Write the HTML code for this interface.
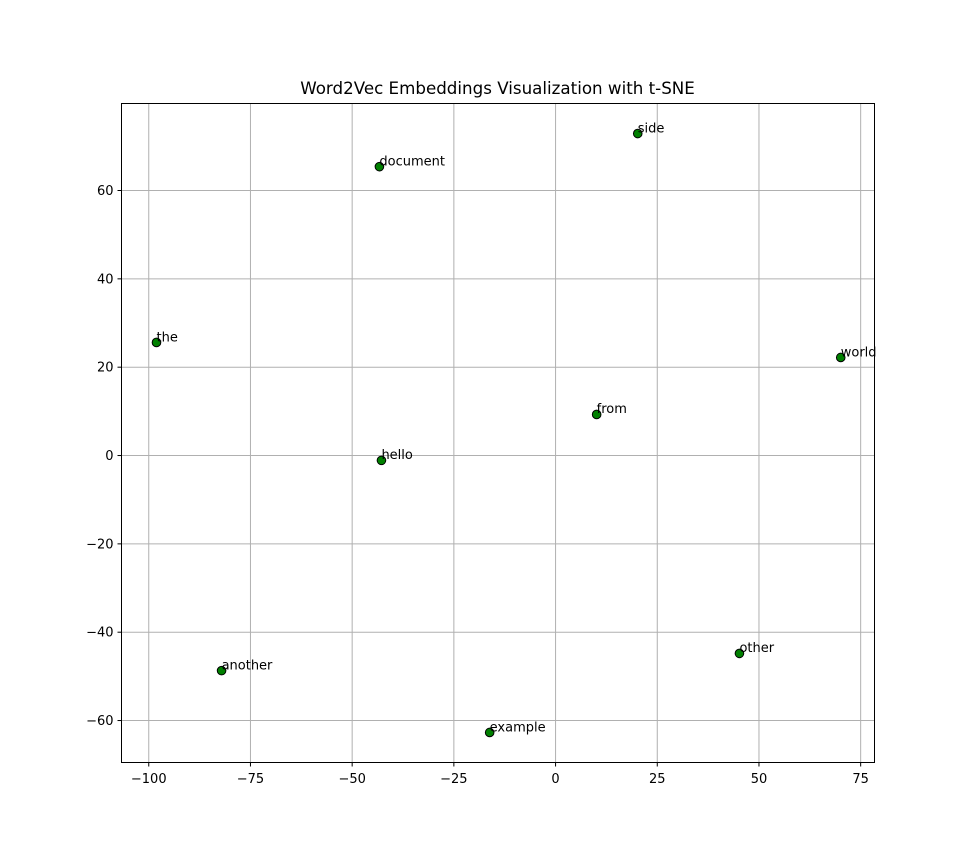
<!DOCTYPE html>
<html><head><meta charset="utf-8"><style>
body{margin:0;background:#fff;}
svg{display:block;font-family:"DejaVu Sans","Liberation Sans",sans-serif;}
</style></head><body>
<svg id="chart" width="971" height="856">
<rect width="971" height="856" fill="#fff"/>
<text x="497.5" y="94" text-anchor="middle" font-size="16.7">Word2Vec Embeddings Visualization with t-SNE</text>
<g id="grid"></g>
<g id="axes"></g>
<g id="points"></g>
<rect x="121.5" y="103.5" width="753" height="659" fill="none" stroke="#000" stroke-width="1"/>
</svg>
<script>
const words=["side","document","the","world","from","hello","another","other","example"];
const xVals=[20.2,-43.3,-98.1,70.1,10.1,-42.8,-82.1,45.2,-16.2];
const yVals=[72.9,65.4,25.6,22.2,9.3,-1.1,-48.7,-44.8,-62.7];
const xTicks=[-100,-75,-50,-25,0,25,50,75];
const yTicks=[-60,-40,-20,0,20,40,60];
const L=121.5,R=874.5,T=103.5,B=762.5;
const xMin=-106.7,xMax=78.4,yMin=-69.5,yMax=79.7;
function sx(v){return L+(v-xMin)/(xMax-xMin)*(R-L);}
function sy(v){return B-(v-yMin)/(yMax-yMin)*(B-T);}
const NS="http://www.w3.org/2000/svg";
function mk(t,a,p){const e=document.createElementNS(NS,t);for(const k in a)e.setAttribute(k,a[k]);p.appendChild(e);return e;}
const grid=document.getElementById('grid'),axes=document.getElementById('axes'),pts=document.getElementById('points');
xTicks.forEach(v=>{const x=sx(v);
 const g=mk('line',{x1:x,x2:x,y1:T,y2:B,stroke:'#b0b0b0','stroke-width':1},grid);
 
 
 const t=mk('line',{x1:x,x2:x,y1:B,y2:B+4,stroke:'#000'},axes);
 
 
 const l=mk('text',{x:x,y:B+20.5,'text-anchor':'middle','font-size':13},axes);
 l.textContent=String(v).replace('-','\u2212');
 
 
});
yTicks.forEach(v=>{const y=sy(v);
 const g=mk('line',{x1:L,x2:R,y1:y,y2:y,stroke:'#b0b0b0','stroke-width':1},grid);
 
 
 const t=mk('line',{x1:L-4,x2:L,y1:y,y2:y,stroke:'#000'},axes);
 
 
 const l=mk('text',{x:L-8,y:y+4.5,'text-anchor':'end','font-size':13},axes);
 l.textContent=String(v).replace('-','\u2212');
 
 
});
words.forEach((w,i)=>{const x=sx(xVals[i]),y=sy(yVals[i]);
 const c=mk('circle',{cx:x,cy:y,r:4.3,fill:'#008000',stroke:'#000','stroke-width':1},pts);
 
 
 const t=mk('text',{x:x,y:y-1.2,'font-size':13},pts);
 t.textContent=w;
 
 
});
</script>
</body></html>
